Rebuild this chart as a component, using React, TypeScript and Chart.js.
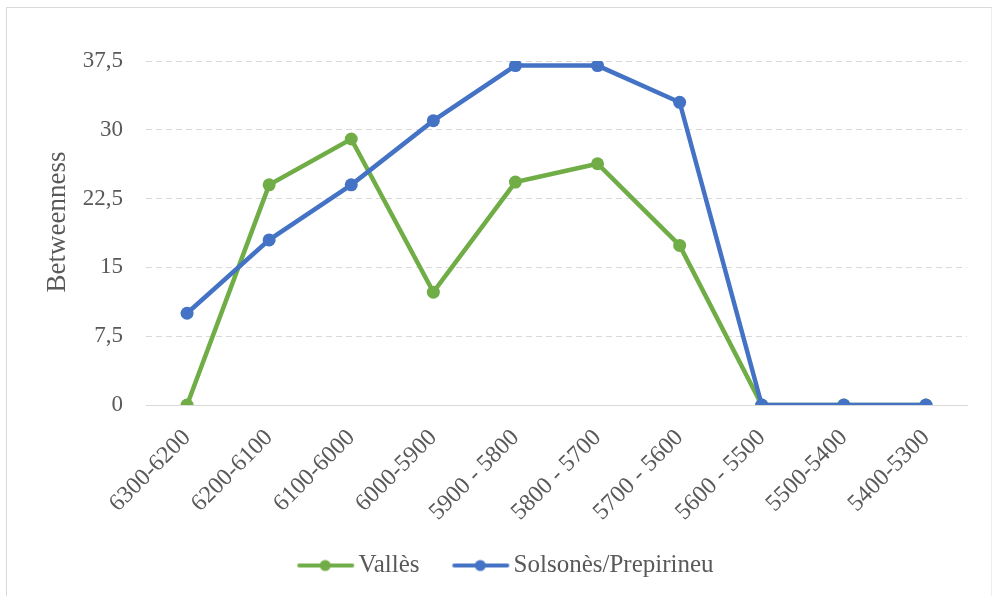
import React, { useEffect, useRef } from "react";
import { Chart, registerables } from "chart.js";

Chart.register(...registerables);

const categories = [
  "6300-6200",
  "6200-6100",
  "6100-6000",
  "6000-5900",
  "5900 - 5800",
  "5800 - 5700",
  "5700 - 5600",
  "5600 - 5500",
  "5500-5400",
  "5400-5300",
];
const vallesValues = [0, 24, 29, 12.3, 24.3, 26.3, 17.4, 0, 0, 0];
const solsonesValues = [10, 18, 24, 31, 37, 37, 33, 0, 0, 0];
const seriesNames = ["Vallès", "Solsonès/Prepirineu"];
const seriesColors = ["#70AD47", "#4472C4"];
const yTicks = [0, 7.5, 15, 22.5, 30, 37.5];
const yTitle = "Betweenness";

const FONT = "'Liberation Serif', 'Times New Roman', serif";
const TEXT = "#595959";

function legendIcon(color: string): HTMLCanvasElement {
  const c = document.createElement("canvas");
  c.width = 80;
  c.height = 14;
  const ctx = c.getContext("2d")!;
  ctx.strokeStyle = color;
  ctx.lineWidth = 4;
  ctx.lineCap = "round";
  ctx.beginPath();
  ctx.moveTo(24, 7);
  ctx.lineTo(77, 7);
  ctx.stroke();
  ctx.fillStyle = color;
  ctx.beginPath();
  ctx.arc(50, 7, 5.5, 0, Math.PI * 2);
  ctx.fill();
  return c;
}

const layoutTweaks = {
  id: "layoutTweaks",
  afterLayout(chart: any) {
    if (chart.legend) {
      chart.legend.left -= 6;
      chart.legend.right -= 6;
    }
  },
  afterDraw(chart: any) {
    const { ctx, chartArea } = chart;
    ctx.save();
    ctx.translate(58, (chartArea.top + chartArea.bottom) / 2 - 11);
    ctx.rotate(-Math.PI / 2);
    ctx.font = `27px ${FONT}`;
    ctx.fillStyle = TEXT;
    ctx.textAlign = "center";
    ctx.textBaseline = "middle";
    ctx.fillText(yTitle, 0, 0);
    ctx.restore();
  },
};

export default function App() {
  const ref = useRef<HTMLCanvasElement>(null);
  useEffect(() => {
    if (!ref.current) return;
    const icons = seriesColors.map(legendIcon);
    const chart = new Chart(ref.current, {
      type: "line",
      data: {
        labels: categories,
        datasets: [
          {
            label: seriesNames[0],
            data: vallesValues,
            borderColor: seriesColors[0],
            backgroundColor: seriesColors[0],
            borderWidth: 4.5,
            pointRadius: 6.5,
            pointBorderWidth: 0,
            pointBackgroundColor: seriesColors[0],
            tension: 0,
            order: 1,
          },
          {
            label: seriesNames[1],
            data: solsonesValues,
            borderColor: seriesColors[1],
            backgroundColor: seriesColors[1],
            borderWidth: 4.5,
            pointRadius: 6.5,
            pointBorderWidth: 0,
            pointBackgroundColor: seriesColors[1],
            tension: 0,
            order: 0,
          },
        ],
      },
      plugins: [layoutTweaks],
      options: {
        animation: false,
        responsive: false,
        maintainAspectRatio: false,
        layout: { padding: { left: 43, right: 28, top: 61, bottom: 8 } },
        plugins: {
          tooltip: { enabled: false },
          legend: {
            position: "bottom",
            labels: {
              usePointStyle: true,
              pointStyleWidth: 61.5,
              padding: 20,
              color: TEXT,
              font: { family: FONT, size: 25 },
              generateLabels: (ch: any) => {
                const items = Chart.defaults.plugins.legend.labels.generateLabels(ch);
                items.sort((a: any, b: any) => a.datasetIndex - b.datasetIndex);
                items.forEach((it: any) => {
                  it.pointStyle = icons[it.datasetIndex];
                });
                return items;
              },
            },
          },
        },
        scales: {
          x: {
            offset: true,
            grid: { display: false, drawTicks: false },
            border: { display: true, color: "#D9D9D9", width: 1 },
            ticks: {
              color: TEXT,
              font: { family: FONT, size: 24 },
              maxRotation: 45,
              minRotation: 45,
              padding: 19,
              autoSkip: false,
            },
            afterFit: (s: any) => {
              s.height = 128;
            },
          },
          y: {
            min: 0,
            max: 37.5,
            afterBuildTicks: (s: any) => {
              s.ticks = yTicks.map((v) => ({ value: v }));
            },
            grid: {
              drawTicks: false,
              color: (c: any) => (c.tick && c.tick.value === 0 ? "rgba(0,0,0,0)" : "#D9D9D9"),
              lineWidth: 1,
            },
            border: { display: false, dash: [6, 4] },
            ticks: {
              color: TEXT,
              font: { family: FONT, size: 23 },
              padding: 23,
              callback: (v: any) => String(v).replace(".", ","),
            },
            title: { display: false },
            afterFit: (s: any) => {
              s.width = 103;
            },
          },
        },
      },
    });
    return () => chart.destroy();
  }, []);
  return (
    <div style={{ position: "absolute", left: 0, top: 0, width: 995, height: 596, background: "#fff" }}>
      <div
        style={{
          position: "absolute",
          left: 6,
          top: 7,
          width: 986,
          height: 600,
          borderTop: "1px solid #D9D9D9",
          borderLeft: "1px solid #D9D9D9",
          borderRight: "1px solid #EEEEEE",
          boxSizing: "border-box",
        }}
      />
      <canvas ref={ref} width={995} height={596} style={{ position: "absolute", left: 0, top: 0 }} />
    </div>
  );
}
